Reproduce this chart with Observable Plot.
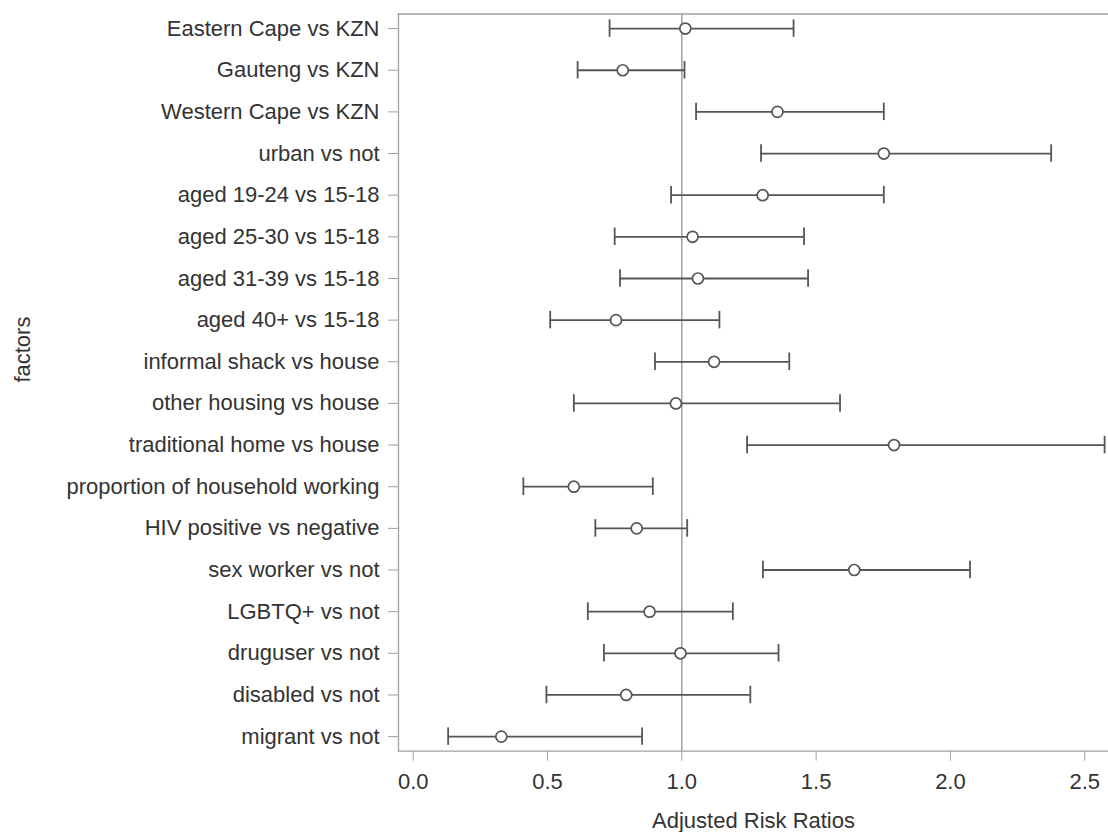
<!DOCTYPE html>
<html>
<head>
<meta charset="utf-8">
<script src="https://cdn.jsdelivr.net/npm/d3@7"></script>
<script src="https://cdn.jsdelivr.net/npm/@observablehq/plot@0.6"></script>
<style>
  html, body { margin: 0; padding: 0; background: #fff; }
  #chart svg { display: block; }
</style>
</head>
<body>
<div id="chart"></div>
<script>
const factors = [
  "Eastern Cape vs KZN",
  "Gauteng vs KZN",
  "Western Cape vs KZN",
  "urban vs not",
  "aged 19-24 vs 15-18",
  "aged 25-30 vs 15-18",
  "aged 31-39 vs 15-18",
  "aged 40+ vs 15-18",
  "informal shack vs house",
  "other housing vs house",
  "traditional home vs house",
  "proportion of household working",
  "HIV positive vs negative",
  "sex worker vs not",
  "LGBTQ+ vs not",
  "druguser vs not",
  "disabled vs not",
  "migrant vs not"
];
const estimate = [1.013, 0.780, 1.356, 1.752, 1.301, 1.040, 1.060, 0.755, 1.120, 0.978, 1.790, 0.598, 0.832, 1.642, 0.880, 0.995, 0.793, 0.328];
const lower    = [0.731, 0.612, 1.053, 1.295, 0.960, 0.750, 0.770, 0.510, 0.900, 0.598, 1.243, 0.410, 0.678, 1.302, 0.650, 0.710, 0.496, 0.130];
const upper    = [1.416, 1.010, 1.752, 2.375, 1.752, 1.455, 1.470, 1.140, 1.400, 1.589, 2.574, 0.892, 1.020, 2.073, 1.190, 1.360, 1.255, 0.852];
const xTicks = [0, 0.5, 1, 1.5, 2, 2.5];
const referenceValue = [1];
const xTitle = "Adjusted Risk Ratios";
const yTitle = "factors";

const rows = factors.map((f, i) => ({factor: f, est: estimate[i], lo: lower[i], hi: upper[i]}));

const ink = "#555";
const axisGray = "#a0a0a0";

const chart = Plot.plot({
  width: 1108,
  height: 832,
  marginLeft: 398,
  marginRight: 0,
  marginTop: 13.5,
  marginBottom: 81.3,
  style: {fontFamily: "'Liberation Sans', Arial, sans-serif", fontSize: "22px", color: "#333", background: "white"},
  x: {domain: [-0.0548, 2.5885]},
  y: {type: "band", domain: factors, paddingInner: 0.58, paddingOuter: 0.14, round: false},
  marks: [
    Plot.frame({anchor: "top", stroke: axisGray, strokeWidth: 1.3}),
    Plot.frame({anchor: "left", stroke: axisGray, strokeWidth: 1.3}),
    Plot.frame({anchor: "bottom", stroke: axisGray, strokeWidth: 1.3}),
    Plot.ruleX(referenceValue, {stroke: axisGray, strokeWidth: 1.5}),
    Plot.axisY({tickSize: 10, tickPadding: 9, label: null, stroke: axisGray, fill: "#333"}),
    Plot.axisX({ticks: xTicks, tickFormat: d3.format(".1f"), tickSize: 10, tickPadding: 12, label: null, stroke: axisGray, fill: "#333"}),
    Plot.text([xTitle], {frameAnchor: "bottom", dy: 77, fill: "#333", text: d => d}),
    Plot.text([yTitle], {frameAnchor: "left", dx: -376, rotate: -90, fill: "#333", text: d => d}),
    Plot.ruleY(rows, {y: "factor", x1: "lo", x2: "hi", stroke: ink, strokeWidth: 1.8}),
    Plot.tickX(rows, {x: "lo", y: "factor", stroke: ink, strokeWidth: 1.8}),
    Plot.tickX(rows, {x: "hi", y: "factor", stroke: ink, strokeWidth: 1.8}),
    Plot.dot(rows, {x: "est", y: "factor", r: 5.5, stroke: ink, fill: "white", strokeWidth: 1.7})
  ]
});
document.getElementById("chart").appendChild(chart);
</script>
</body>
</html>
